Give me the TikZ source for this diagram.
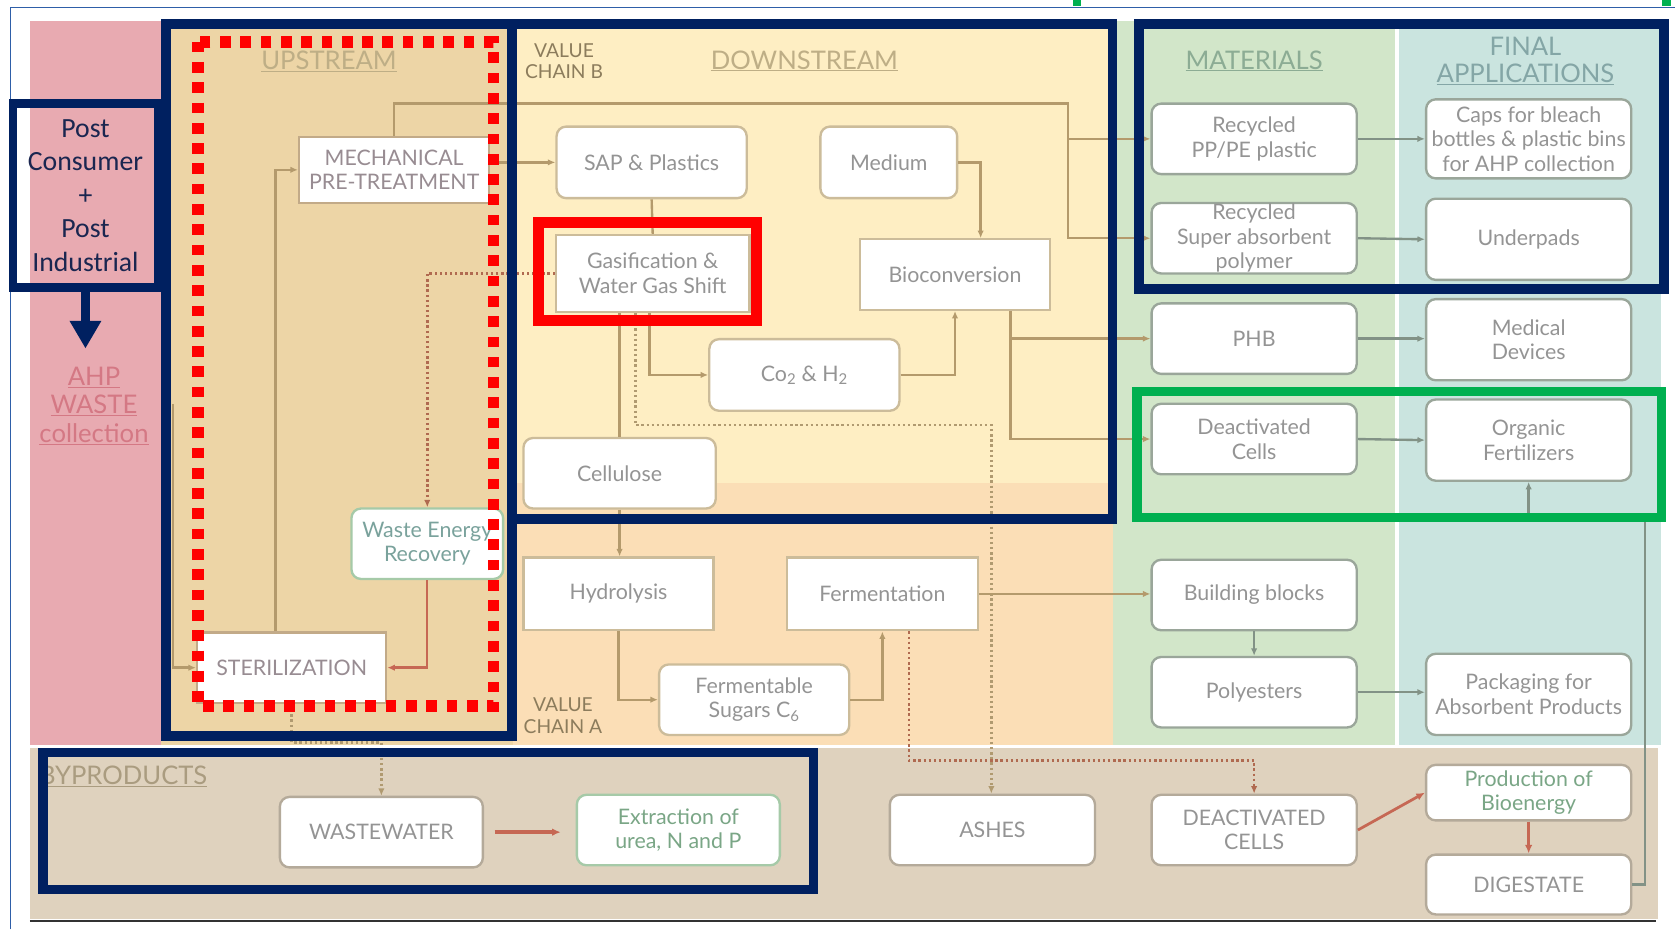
\documentclass[tikz,border=0pt]{standalone}
\usepackage{fontspec}
\usepackage{tikz}
\usetikzlibrary{arrows.meta,positioning,calc}
\newfontfamily\gillfont{Lato}
\newfontfamily\calibrifont{Carlito}
\definecolor{frameNavy}{RGB}{0,32,96}
\definecolor{frameGreen}{RGB}{0,176,80}
\definecolor{frameRed}{RGB}{255,0,0}
\definecolor{edgeBlue}{RGB}{46,94,168}
\definecolor{bgPink}{RGB}{232,170,177}
\definecolor{bgUp}{RGB}{237,213,166}
\definecolor{bgDown}{RGB}{254,238,195}
\definecolor{bgChainA}{RGB}{251,222,182}
\definecolor{bgMat}{RGB}{210,230,201}
\definecolor{bgFinal}{RGB}{202,228,223}
\definecolor{bgBy}{RGB}{223,210,190}
\definecolor{flowTan}{RGB}{180,154,108}
\definecolor{flowRed}{RGB}{198,104,84}
\definecolor{flowMat}{RGB}{130,146,134}
\definecolor{dotRed}{RGB}{176,106,80}
\definecolor{dotTan}{RGB}{176,154,112}
\definecolor{edgeDown}{RGB}{204,188,154}
\definecolor{edgeUp}{RGB}{194,170,136}
\definecolor{edgeMat}{RGB}{154,166,154}
\definecolor{edgeGreen}{RGB}{166,202,168}
\definecolor{edgeBy}{RGB}{180,170,154}
\definecolor{txtGrey}{RGB}{148,148,148}
\definecolor{txtUp}{RGB}{152,140,146}
\definecolor{txtTeal}{RGB}{122,162,156}
\definecolor{txtGreen}{RGB}{122,166,134}
\definecolor{headTan}{RGB}{190,174,134}
\definecolor{headMat}{RGB}{140,172,148}
\definecolor{headFin}{RGB}{132,166,166}
\definecolor{headBy}{RGB}{170,156,128}
\definecolor{chainTan}{RGB}{140,124,92}
\definecolor{ahpRose}{RGB}{212,120,132}
\definecolor{postText}{RGB}{26,38,80}
\newcommand{\boxfont}{\gillfont\fontsize{20}{23}\selectfont}
\newcommand{\headfont}{\gillfont\fontsize{24}{25}\selectfont}
\newcommand{\ahpfont}{\gillfont\fontsize{24}{26.5}\selectfont}
\newcommand{\chainfont}{\gillfont\fontsize{18}{20}\selectfont}
\newcommand{\postfont}{\calibrifont\fontsize{26}{31.5}\selectfont}

\begin{document}
\begin{tikzpicture}[x=1pt, y=-1pt,
    procbox/.style={fill=white, draw=#1, line width=2.2, align=center, inner sep=2, font=\boxfont, text=txtGrey},
    procbox/.default=edgeDown,
    rbox/.style={procbox=#1, rounded corners=9},
    rbox/.default=edgeDown,
    matbox/.style={rbox=edgeMat, minimum width=192, minimum height=66},
    bybox/.style={rbox=edgeBy, minimum width=192, minimum height=66},
    flowline/.style={draw=flowTan, line width=2.2},
    flow/.style={flowline, -{Latex[length=7pt,width=6pt]}},
    matflow/.style={draw=flowMat, line width=2.2, -{Latex[length=7pt,width=6pt]}},
    redflow/.style={draw=flowRed, line width=2.6, -{Latex[length=8pt,width=7pt]}},
    dotflow/.style={draw=#1, line width=2.4, dash pattern=on 2.2pt off 2.6pt, -{Latex[length=7pt,width=6pt]}},
    headtxt/.style={font=\headfont, text=#1, align=center},
    navyframe/.style={draw=frameNavy, line width=9},
  ]
  \useasboundingbox (0,0) rectangle (1568,870);
  \fill[white] (0,0) rectangle (1568,870);
  % --- BACKGROUND: stage panels ---
  \fill[bgPink] (28,20) rectangle (151,697);
  \fill[bgUp] (151,20) rectangle (480,697);
  \fill[bgDown] (480,20) rectangle (1042,452);
  \fill[bgChainA] (480,452) rectangle (1042,697);
  \fill[bgMat] (1042,20) rectangle (1306,697);
  \fill[bgFinal] (1310,20) rectangle (1555,697);
  \fill[bgBy] (28,700) rectangle (1552,860);
  \draw[edgeBlue, line width=1.5] (10,870) -- (10,7) -- (1568,7);
  \draw[black!80, line width=2] (28,862) -- (1550,862);
  \fill[frameGreen] (1004,0) rectangle (1012,6);
  \fill[frameGreen] (1556,0) rectangle (1564,6);

  % --- Headings ---
  \node[headtxt=headTan] (upHead) at (308,57) {\underline{UPSTREAM}};
  \node[headtxt=headTan] (downHead) at (753,57) {\underline{DOWNSTREAM}};
  \node[headtxt=headMat] (matHead) at (1174,57) {\underline{MATERIALS}};
  \node[headtxt=headFin] (finHead) at (1428,57) {FINAL\\\underline{APPLICATIONS}};
  \node[font=\chainfont, text=chainTan, align=center] (chainB) at (528,57) {VALUE\\CHAIN B};
  \node[font=\chainfont, text=chainTan, align=center] (chainA) at (527,670) {VALUE\\CHAIN A};
  \node[font=\ahpfont, text=ahpRose, align=center] (ahp) at (88,380)
    {\underline{AHP}\\\underline{WASTE}\\\underline{collection}};
  \node[headtxt=headBy, anchor=west] (byHead) at (33,727) {\underline{BYPRODUCTS}};

  % --- UPSTREAM nodes ---
  \node[procbox=edgeUp, text=txtUp, minimum width=178, minimum height=62]
    (mech) at (369,159) {MECHANICAL\\PRE-TREATMENT};
  \node[procbox=edgeUp, text=txtUp, minimum width=177, minimum height=66]
    (steril) at (273,625) {STERILIZATION};
  \node[rbox=edgeGreen, text=txtTeal, minimum width=142, minimum height=66]
    (wer) at (400,509) {Waste Energy\\Recovery};
  % --- DOWNSTREAM nodes ---
  \node[rbox, minimum width=178, minimum height=67] (sap) at (610,152) {SAP \& Plastics};
  \node[rbox, minimum width=128, minimum height=67] (medium) at (832,152) {Medium};
  \node[procbox, minimum width=181, minimum height=72] (gasif) at (611,256) {Gasification \&\\Water Gas Shift};
  \node[procbox, minimum width=178, minimum height=66] (biocon) at (894,257) {Bioconversion};
  \node[rbox, minimum width=178, minimum height=67] (cohh) at (753,351)
    {Co\textsubscript{2} \& H\textsubscript{2}};
  \node[rbox, minimum width=180, minimum height=66] (cellul) at (580,443) {Cellulose};
  \node[procbox, minimum width=178, minimum height=68] (hydro) at (579,556) {Hydrolysis};
  \node[procbox, minimum width=179, minimum height=68] (ferm) at (826,556) {Fermentation};
  \node[rbox, minimum width=178, minimum height=66] (sugars) at (706,655)
    {Fermentable\\Sugars C\textsubscript{6}};
  % --- MATERIALS nodes ---
  \node[matbox] (pppe) at (1174,130) {Recycled\\PP/PE plastic};
  \node[matbox, inner sep=0] (rsap) at (1174,223) {Recycled\\Super absorbent\\polymer};
  \node[matbox] (phb) at (1174,317) {PHB};
  \node[matbox] (deact) at (1174,411) {Deactivated\\Cells};
  \node[matbox] (bblocks) at (1174,557) {Building blocks};
  \node[matbox] (polyest) at (1174,648) {Polyesters};
  % --- FINAL APPLICATIONS nodes ---
  \node[matbox, minimum height=74, inner sep=0] (caps) at (1431,130)
    {Caps for bleach\\bottles \& plastic bins\\for AHP collection};
  \node[matbox, minimum height=76] (under) at (1431,224) {Underpads};
  \node[matbox, minimum height=76] (medical) at (1431,318) {Medical\\Devices};
  \node[matbox, minimum height=76] (organic) at (1431,412) {Organic\\Fertilizers};
  \node[matbox, minimum height=76] (packag) at (1431,650) {Packaging for\\Absorbent Products};
  % --- BYPRODUCTS nodes ---
  \node[bybox, minimum width=190] (waste) at (357,779) {WASTEWATER};
  \node[rbox=edgeGreen, text=txtGreen, minimum width=190, minimum height=66]
    (extract) at (635,777) {Extraction of\\urea, N and P};
  \node[bybox] (ashes) at (929,777) {ASHES};
  \node[bybox] (dcells) at (1174,777) {DEACTIVATED\\CELLS};
  \node[bybox, minimum height=52, text=txtGreen] (bioen) at (1431,742) {Production of\\Bioenergy};
  \node[bybox, minimum height=56] (digest) at (1431,828) {DIGESTATE};

  % --- Connections: upstream loop ---
  \coordinate (ahpIn) at (162,378);
  \draw[flow] (ahpIn) |- (steril.west);
  \draw[flow] ([xshift=-15]steril.north) |- (mech.west);
  \draw[flow, draw=flowRed] (wer.south) |- (steril.east);
  \draw[dotflow=dotRed] (gasif.west) -| (wer.north);
  % Value chain B
  \coordinate (topB) at (1000,97);
  \draw[flow] (mech.north) |- (topB) |- (rsap.west);
  \draw[flow] (topB |- pppe.west) -- (pppe.west);
  \draw[flow] (mech.east |- sap.west) -- (sap.west);
  \draw[flowline] (sap.south) -- (gasif.north);
  \draw[flow] ([xshift=-3]gasif.south) |- (cohh.west);
  \draw[flowline] (cellul.north |- gasif.south) -- (cellul.north);
  \coordinate (ashTurn) at (928,398);
  \draw[dotflow=dotTan] ([xshift=-16]gasif.south) |- (ashTurn) -- (ashTurn |- ashes.north);
  \draw[flow] (cohh.east) -| (biocon.south);
  \draw[flow] (medium.east) -| ([xshift=24]biocon.north);
  \draw[flow] ([xshift=52]biocon.south) |- (deact.west);
  \draw[flow] ([xshift=52]biocon.south |- phb.west) -- (phb.west);
  % Value chain A
  \draw[flow] (cellul.south) -- (cellul.south |- hydro.north);
  \draw[flow] (hydro.south) |- (sugars.west);
  \draw[flow] (sugars.east) -| (ferm.south);
  \draw[flow] (ferm.east) -- (ferm.east -| bblocks.west);
  \coordinate (cellTurn) at (1174,712);
  \draw[dotflow=dotRed] ([xshift=25]ferm.south) |- (cellTurn) -- (dcells.north);
  % Materials to applications
  \draw[matflow] (pppe.east) -- (caps.west);
  \draw[matflow] (rsap.east) -- (under.west);
  \draw[matflow] (phb.east) -- (phb.east -| medical.west);
  \draw[matflow] (deact.east) -- (organic.west);
  \draw[matflow] (bblocks.south) -- (polyest.north);
  \draw[matflow] (polyest.east) -- (polyest.east -| packag.west);
  % Byproducts
  \coordinate (wwTurn) at (357,695);
  \draw[dotflow=dotTan] (steril.south) |- (wwTurn) -- (waste.north);
  \draw[redflow, line width=3.2, shorten <=10pt, shorten >=14pt] (waste.east) -- (waste.east -| extract.west);
  \draw[redflow] (dcells.east) -- (bioen.west);
  \draw[redflow] (bioen.south) -- (digest.north);
  \coordinate (digUp) at (1540,485);
  \draw[matflow] (digest.east) -| (digUp) -| (organic.south);

  % --- Highlight frames ---
  \node[draw=frameNavy, line width=8, minimum width=136, minimum height=172, inner sep=0,
    align=center, font=\postfont, text=postText] (source) at (80,183)
    {Post\\Consumer\\+\\Post\\Industrial};
  \draw[frameNavy, line width=8, -{Triangle[length=26pt,width=28pt]}, shorten >=14pt]
    (source.south) -- (source.south |- ahp.north);
  \draw[navyframe] (155.5,22.5) rectangle (479,689);
  \draw[navyframe] (479,22.5) rectangle (1041.5,486);
  \draw[navyframe] (1066.5,22.5) rectangle (1557.5,270.5);
  \draw[navyframe] (40.5,704.5) rectangle (761.5,832.5);
  \draw[frameGreen, line width=9] (1064.5,366.5) rectangle (1555.5,484.5);
  \draw[frameRed, line width=10] (504,208) rectangle (708,300);
  \draw[frameRed, line width=11, dash pattern=on 10pt off 9pt] (185,39) rectangle (462,661);
\end{tikzpicture}
\end{document}
